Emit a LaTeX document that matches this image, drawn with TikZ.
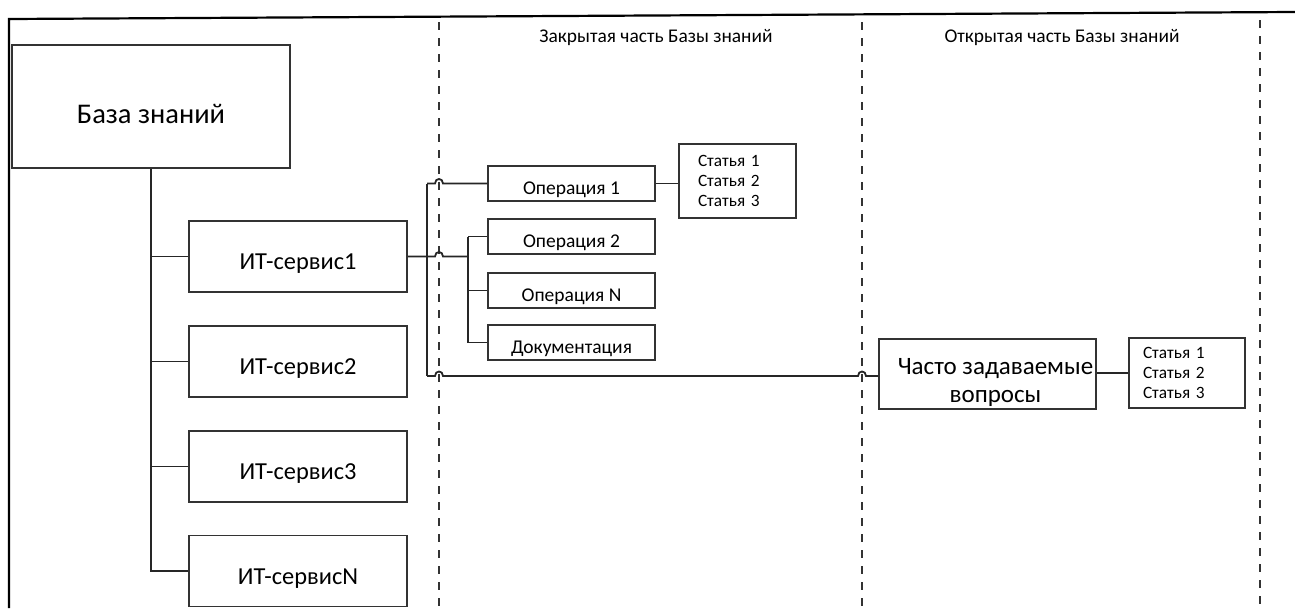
\documentclass[tikz,border=0pt]{standalone}
\usepackage{fontspec}
\setmainfont{Carlito}
\begin{document}
\begin{tikzpicture}[x=1pt,y=-1pt,
  box/.style={draw=black!80, line width=1.5pt, fill=white, rectangle, inner sep=0pt, align=center},
  bigbox/.style={box, minimum width=278pt, minimum height=123pt, text height=33pt, text depth=0pt, font=\fontsize{28.5}{34}\selectfont},
  itbox/.style={box, minimum width=218pt, minimum height=71pt, text height=26pt, text depth=0pt, font=\fontsize{24.4}{28}\selectfont},
  opbox/.style={box, minimum width=167pt, minimum height=35pt, text height=21.5pt, text depth=0pt, font=\fontsize{19.5}{23}\selectfont},
  artbox/.style={box, align=left, font=\fontsize{17.3}{20.3}\selectfont},
  faqbox/.style={box, minimum width=217pt, minimum height=70pt},
  faqtext/.style={align=center, inner sep=0pt, font=\fontsize{25}{28}\selectfont},
  heading/.style={inner sep=0pt, anchor=base, font=\fontsize{19.4}{23}\selectfont},
  conn/.style={draw=black!85, line width=1.8pt},
  divider/.style={draw=black!80, line width=1.3pt, dash pattern=on 8pt off 8pt},
  frame/.style={draw=black, line width=2.2pt}]
\useasboundingbox (0,0) rectangle (1295,608);

% frame
\draw[frame] (1295,12) -- (9,19) -- (9,608);

% dividers
\coordinate (d1top) at (439,22);  \coordinate (d1bot) at (439,608);
\coordinate (d2top) at (862,22);  \coordinate (d2bot) at (862,608);
\coordinate (d3top) at (1260,20); \coordinate (d3bot) at (1260,608);
\draw[divider] (d1top) -- (d1bot);
\draw[divider] (d2top) -- (d2bot);
\draw[divider] (d3top) -- (d3bot);

% headings
\node[heading] (h1) at (656,42) {Закрытая часть Базы знаний};
\node[heading] (h2) at (1062,42) {Открытая часть Базы знаний};

% nodes
\node[bigbox] (base) at (151,106.5) {База знаний};
\node[itbox] (it1) at (298,256.5) {ИТ-сервис1};
\node[itbox] (it2) at (298,361.5) {ИТ-сервис2};
\node[itbox] (it3) at (298,466.5) {ИТ-сервис3};
\node[itbox] (itN) at (298,571) {ИТ-сервисN};

\node[opbox] (op1) at (571.5,183.5) {Операция 1};
\node[opbox] (op2) at (571.5,236.5) {Операция 2};
\node[opbox] (opN) at (571.5,290.5) {Операция N};
\node[opbox] (doc) at (571.5,342.5) {Документация};

\node[artbox, minimum width=117pt, minimum height=74pt, text width=79pt, inner xsep=19pt] (art1) at (737.5,181) {Статья 1\\Статья 2\\Статья 3};

\node[faqbox] (faq) at (987.5,374) {};
\node[faqtext] (faqlbl) at ([xshift=8pt,yshift=-8pt]faq.center) {Часто задаваемые\\вопросы};
\node[artbox, minimum width=116pt, minimum height=70pt, text width=88pt, inner xsep=14pt] (art2) at (1187,373) {Статья 1\\Статья 2\\Статья 3};

% connectors: left tree
\draw[conn] (base.south) -- (base.south |- itN.west) -- (itN.west);
\draw[conn] (base.south |- it1.west) -- (it1.west);
\draw[conn] (base.south |- it2.west) -- (it2.west);
\draw[conn] (base.south |- it3.west) -- (it3.west);

% bus
\coordinate (busTop) at (427,183.5);
\coordinate (busBot) at (427,376);
\coordinate (opX) at (468,256.5);
\draw[conn] (busTop) -- (busBot);

% it1 to operations, with a hop over the divider
\draw[conn] (it1.east) -- (435,256.5) .. controls (435,250.5) and (443,250.5) .. (443,256.5) -- (opX);
\draw[conn] (busTop) -- (435,183.5) .. controls (435,177.5) and (443,177.5) .. (443,183.5) -- (op1.west);
\draw[conn] (opX |- op2.west) -- (opX |- doc.west) -- (doc.west);
\draw[conn] (opX |- op2.west) -- (op2.west);
\draw[conn] (opX |- opN.west) -- (opN.west);

% articles
\draw[conn] (op1.east) -- (op1.east -| art1.west);

% FAQ line with two hops
\draw[conn] (busBot) -- (435,376) .. controls (435,370) and (443,370) .. (443,376)
  -- (858,376) .. controls (858,370) and (866,370) .. (866,376) -- (faq.west |- busBot);
\draw[conn] (faq.east |- art2.west) -- (art2.west);
\end{tikzpicture}
\end{document}
